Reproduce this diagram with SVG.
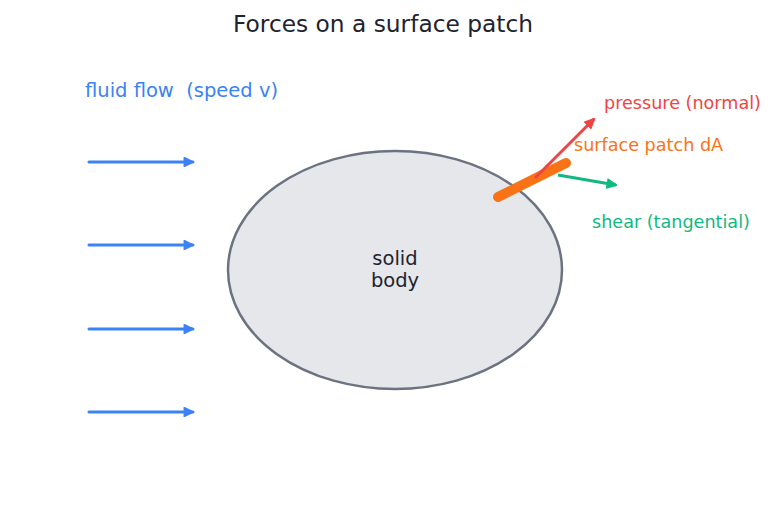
<svg xmlns="http://www.w3.org/2000/svg" width="774" height="510" viewBox="0 0 774 510">
<defs>
<style>
text{font-family:"DejaVu Sans","Liberation Sans",sans-serif;white-space:pre}
.flow{stroke:#3b82f6;stroke-width:3;fill:none;stroke-linecap:round}
</style>
<marker id="ab" viewBox="0 0 10 10" refX="9" refY="5" markerWidth="3.7" markerHeight="3.5" orient="auto" markerUnits="strokeWidth"><path d="M0.5,0.5 L10,5 L0.5,9.5 Z" fill="#3b82f6" stroke="#3b82f6" stroke-linejoin="round"/></marker>
<marker id="ar" viewBox="0 0 10 10" refX="9" refY="5" markerWidth="3.7" markerHeight="3.5" orient="auto" markerUnits="strokeWidth"><path d="M0.5,0.5 L10,5 L0.5,9.5 Z" fill="#ef4444" stroke="#ef4444" stroke-linejoin="round"/></marker>
<marker id="ag" viewBox="0 0 10 10" refX="9" refY="5" markerWidth="3.7" markerHeight="3.5" orient="auto" markerUnits="strokeWidth"><path d="M0.5,0.5 L10,5 L0.5,9.5 Z" fill="#10b981" stroke="#10b981" stroke-linejoin="round"/></marker>
</defs>
<rect width="774" height="510" fill="#fff"/>
<text x="383" y="32" font-size="23.3" text-anchor="middle" fill="#1f2330">Forces on a surface patch</text>
<g id="body">
<ellipse cx="395" cy="270" rx="167" ry="119" fill="#e5e7eb" stroke="#6b7280" stroke-width="2.5"/>
<text x="395" y="265" font-size="19.5" text-anchor="middle" fill="#1f2330">solid</text>
<text x="395" y="287" font-size="19.5" text-anchor="middle" fill="#1f2330">body</text>
</g>
<g id="flow-label"><text x="85" y="97" font-size="19.5" fill="#3b82f6" xml:space="preserve">fluid flow  (speed v)</text></g>
<g id="connectors">
<line class="flow" x1="89" y1="162" x2="193" y2="162" marker-end="url(#ab)"/>
<line class="flow" x1="89" y1="245" x2="193" y2="245" marker-end="url(#ab)"/>
<line class="flow" x1="89" y1="329" x2="193" y2="329" marker-end="url(#ab)"/>
<line class="flow" x1="89" y1="412" x2="193" y2="412" marker-end="url(#ab)"/>
</g>
<g id="patch">
<line x1="498" y1="197" x2="566" y2="163" stroke="#f97316" stroke-width="10" stroke-linecap="round"/>
<text x="574" y="151" font-size="17.6" fill="#f97316">surface patch dA</text>
</g>
<g id="pressure">
<line x1="535" y1="178" x2="594" y2="119" stroke="#ef4444" stroke-width="3" marker-end="url(#ar)"/>
<text x="604" y="109" font-size="17.6" fill="#ef4444">pressure (normal)</text>
</g>
<g id="shear">
<line x1="558" y1="175" x2="616" y2="185" stroke="#10b981" stroke-width="3" marker-end="url(#ag)"/>
<text x="592" y="228" font-size="17.6" fill="#10b981">shear (tangential)</text>
</g>
</svg>
